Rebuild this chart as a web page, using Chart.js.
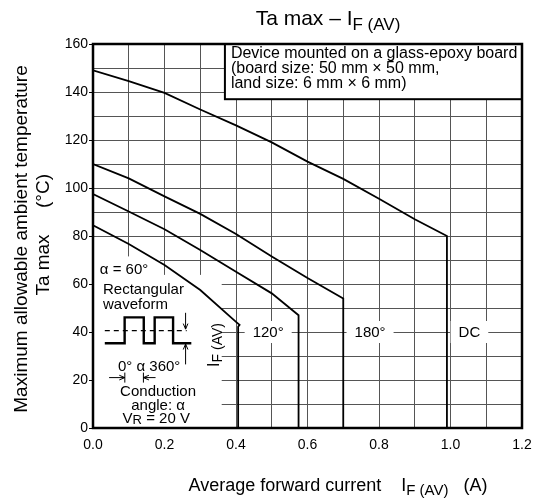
<!DOCTYPE html>
<html>
<head>
<meta charset="utf-8">
<script src="https://cdn.jsdelivr.net/npm/chart.js@4/dist/chart.umd.min.js"></script>
<style>
  html, body { margin: 0; padding: 0; background: #fff; }
</style>
</head>
<body>
<canvas id="chart" width="535" height="499"></canvas>
<script>
const FONT = '"Liberation Sans", Arial, sans-serif';

// curves: average forward current (A) vs Ta max (°C)
const currentDC = [0, 0.1, 0.2, 0.3, 0.4, 0.5, 0.6, 0.7, 0.8, 0.9, 0.99, 0.99];
const tempDC = [149, 144.5, 139.6, 132.7, 126.1, 119, 111, 103.8, 95.5, 87, 80, 0];

const current180 = [0, 0.1, 0.2, 0.3, 0.4, 0.5, 0.6, 0.7, 0.7];
const temp180 = [110, 104, 96.5, 89.2, 80.8, 71.5, 62.5, 54, 0];

const current120 = [0, 0.1, 0.2, 0.3, 0.4, 0.5, 0.575, 0.575];
const temp120 = [97.5, 90.2, 82.8, 74.2, 65.1, 56.1, 47, 0];

const current60 = [0, 0.1, 0.2, 0.3, 0.4, 0.41, 0.406, 0.406];
const temp60 = [84.5, 76.7, 67.9, 57.5, 44.2, 43, 42.2, 0];

const angleLabels = ['120°', '180°', 'DC'];
const angleLabelX = [0.49, 0.775, 1.053];
const angleLabelY = 40;

const xTickLabels = [0, 0.2, 0.4, 0.6, 0.8, 1.0, 1.2];
const yTickLabels = [0, 20, 40, 60, 80, 100, 120, 140, 160];

const toPoints = (xs, ys) => xs.map((x, i) => ({ x: x, y: ys[i] }));

// text with a lowered, smaller part (subscript)
function drawParts(ctx, parts, x, y, align) {
  let total = 0;
  parts.forEach(p => {
    ctx.font = p.size + 'px ' + FONT;
    p.w = ctx.measureText(p.t).width;
    total += p.w;
  });
  let cx = align === 'center' ? x - total / 2 : x;
  ctx.textAlign = 'left';
  parts.forEach(p => {
    ctx.font = p.size + 'px ' + FONT;
    ctx.fillText(p.t, cx, y + (p.dy || 0));
    cx += p.w;
  });
}

function arrow(ctx, x1, y1, x2, y2) {
  const a = Math.atan2(y2 - y1, x2 - x1);
  ctx.beginPath();
  ctx.moveTo(x1, y1);
  ctx.lineTo(x2, y2);
  ctx.stroke();
  ctx.beginPath();
  ctx.moveTo(x2, y2);
  ctx.lineTo(x2 - 6 * Math.cos(a - 0.4), y2 - 6 * Math.sin(a - 0.4));
  ctx.moveTo(x2, y2);
  ctx.lineTo(x2 - 6 * Math.cos(a + 0.4), y2 - 6 * Math.sin(a + 0.4));
  ctx.stroke();
}

function rotatedText(ctx, text, x, y, size) {
  ctx.save();
  ctx.translate(x, y);
  ctx.rotate(-Math.PI / 2);
  ctx.textAlign = 'center';
  ctx.font = size + 'px ' + FONT;
  ctx.fillText(text, 0, 0);
  ctx.restore();
}

const decor = {
  id: 'decor',
  beforeDatasetsDraw(chart) {
    const ctx = chart.ctx;
    const xs = chart.scales.x, ys = chart.scales.y;
    const px = v => xs.getPixelForValue(v), py = v => ys.getPixelForValue(v);
    ctx.save();
    ctx.fillStyle = '#fff';
    // blank area for the waveform inset
    ctx.fillRect(px(0), py(71.5), px(0.187) - px(0), py(0) - py(71.5));
    ctx.fillRect(px(0), py(63.8), px(0.36) - px(0), py(0) - py(63.8));
    // conduction angle labels
    ctx.font = '15px ' + FONT;
    ctx.textBaseline = 'middle';
    ctx.textAlign = 'center';
    angleLabels.forEach((t, i) => {
      const w = ctx.measureText(t).width + 16;
      ctx.fillStyle = '#fff';
      ctx.fillRect(px(angleLabelX[i]) - w / 2, py(angleLabelY) - 11, w, 22);
      ctx.fillStyle = '#000';
      ctx.fillText(t, px(angleLabelX[i]), py(angleLabelY) + 1);
    });
    ctx.restore();
  },
  afterDatasetsDraw(chart) {
    const ctx = chart.ctx;
    const xs = chart.scales.x, ys = chart.scales.y;
    const px = v => xs.getPixelForValue(v), py = v => ys.getPixelForValue(v);
    const area = chart.chartArea;
    ctx.save();
    ctx.fillStyle = '#000';
    ctx.strokeStyle = '#000';
    ctx.textBaseline = 'middle';

    // board note box
    const bx = px(0.369), by = area.top, bw = area.right - bx, bh = py(137) - area.top;
    ctx.fillStyle = '#fff';
    ctx.fillRect(bx, by, bw, bh);
    ctx.lineWidth = 2;
    ctx.strokeRect(bx, by, bw, bh);
    ctx.fillStyle = '#000';
    ctx.font = '16px ' + FONT;
    ctx.textAlign = 'left';
    ctx.fillText('Device mounted on a glass-epoxy board', bx + 6, by + 10);
    ctx.fillText('(board size: 50 mm × 50 mm,', bx + 6, by + 25);
    ctx.fillText('land size: 6 mm × 6 mm)', bx + 6, by + 40);

    // waveform inset
    ctx.font = '15px ' + FONT;
    ctx.fillText('α = 60°', px(0.019), py(65.8));
    ctx.fillText('Rectangular', px(0.028), py(57.5));
    ctx.fillText('waveform', px(0.028), py(51.5));

    ctx.lineWidth = 1.2;
    ctx.setLineDash([5, 4]);
    ctx.beginPath();
    ctx.moveTo(px(0.033), py(40.6));
    ctx.lineTo(px(0.262), py(40.6));
    ctx.stroke();
    ctx.setLineDash([]);

    const lo = py(35.3), hi = py(46.1);
    ctx.lineWidth = 2.4;
    ctx.beginPath();
    ctx.moveTo(px(0.033), lo);
    ctx.lineTo(px(0.0885), lo); ctx.lineTo(px(0.0885), hi);
    ctx.lineTo(px(0.142), hi); ctx.lineTo(px(0.142), lo);
    ctx.lineTo(px(0.1725), lo); ctx.lineTo(px(0.1725), hi);
    ctx.lineTo(px(0.224), hi); ctx.lineTo(px(0.224), lo);
    ctx.lineTo(px(0.275), lo);
    ctx.stroke();

    ctx.lineWidth = 1;
    arrow(ctx, px(0.259), py(48), px(0.259), py(41.2));
    arrow(ctx, px(0.259), py(26.5), px(0.259), py(35));

    ctx.textAlign = 'center';
    ctx.fillText('0° α 360°', px(0.157), py(25.3));
    arrow(ctx, px(0.045), py(21), px(0.089), py(21));
    arrow(ctx, px(0.175), py(21), px(0.141), py(21));
    ctx.beginPath();
    ctx.moveTo(px(0.089), py(21) - 5); ctx.lineTo(px(0.089), py(21) + 5);
    ctx.moveTo(px(0.141), py(21) - 5); ctx.lineTo(px(0.141), py(21) + 5);
    ctx.stroke();
    ctx.fillText('Conduction', px(0.182), py(15.1));
    ctx.fillText('angle: α', px(0.182), py(9.3));
    drawParts(ctx, [{ t: 'V', size: 15 }, { t: 'R', size: 13, dy: 2 }, { t: ' = 20 V', size: 15 }],
      px(0.177), py(4), 'center');

    // rotated IF(AV) marker
    ctx.save();
    ctx.translate(px(0.341), py(34.6));
    ctx.rotate(-Math.PI / 2);
    drawParts(ctx, [{ t: 'I', size: 16 }, { t: 'F (AV)', size: 14, dy: 3 }], 0, 0, 'center');
    ctx.restore();
    ctx.restore();
  },
  afterDraw(chart) {
    const ctx = chart.ctx;
    const area = chart.chartArea;
    ctx.save();
    ctx.strokeStyle = '#000';
    ctx.lineWidth = 2.5;
    ctx.strokeRect(area.left, area.top, area.right - area.left, area.bottom - area.top);

    ctx.fillStyle = '#000';
    ctx.textBaseline = 'alphabetic';
    // title
    drawParts(ctx, [{ t: 'Ta max – I', size: 21 }, { t: 'F (AV)', size: 17, dy: 5 }], 328, 25, 'center');
    // x axis title
    drawParts(ctx, [
      { t: 'Average forward current    I', size: 18 },
      { t: 'F (AV)', size: 15, dy: 4 },
      { t: '   (A)', size: 18 }
    ], 338, 491, 'center');
    // y axis title
    rotatedText(ctx, 'Maximum allowable ambient temperature', 27, 239, 19);
    rotatedText(ctx, 'Ta max', 49, 265, 19);
    rotatedText(ctx, '(°C)', 49, 191, 19);
    ctx.restore();
  }
};

const lineStyle = { showLine: true, borderColor: '#000', borderWidth: 1.8, pointRadius: 0, fill: false };

new Chart(document.getElementById('chart'), {
  type: 'scatter',
  data: {
    datasets: [
      Object.assign({ label: 'DC', data: toPoints(currentDC, tempDC) }, lineStyle),
      Object.assign({ label: '180°', data: toPoints(current180, temp180) }, lineStyle),
      Object.assign({ label: '120°', data: toPoints(current120, temp120) }, lineStyle),
      Object.assign({ label: '60°', data: toPoints(current60, temp60) }, lineStyle)
    ]
  },
  options: {
    responsive: false,
    animation: false,
    layout: { padding: { top: 44, right: 13, left: 0, bottom: 0 } },
    plugins: { legend: { display: false }, tooltip: { enabled: false } },
    scales: {
      x: {
        type: 'linear',
        min: 0,
        max: 1.2,
        afterFit: s => { s.height = 71; s.paddingLeft = 0; s.paddingRight = 0; },
        border: { display: false },
        grid: { color: '#555', lineWidth: 1, drawTicks: false },
        ticks: {
          stepSize: 0.1,
          autoSkip: false,
          maxRotation: 0,
          padding: 9,
          color: '#000',
          font: { family: FONT, size: 14 },
          callback: v => xTickLabels.some(t => Math.abs(t - v) < 1e-6) ? v.toFixed(1) : ''
        }
      },
      y: {
        type: 'linear',
        min: 0,
        max: 160,
        afterFit: s => { s.width = 93; s.paddingTop = 0; s.paddingBottom = 0; },
        border: { display: false },
        grid: {
          color: '#555',
          lineWidth: 1,
          tickLength: 4,
          tickColor: c => (c.tick && yTickLabels.includes(c.tick.value)) ? '#000' : 'rgba(0,0,0,0)'
        },
        ticks: {
          stepSize: 10,
          autoSkip: false,
          padding: 1,
          color: '#000',
          font: { family: FONT, size: 14 },
          callback: v => yTickLabels.includes(v) ? String(v) : ''
        }
      }
    }
  },
  plugins: [decor]
});
</script>
</body>
</html>
